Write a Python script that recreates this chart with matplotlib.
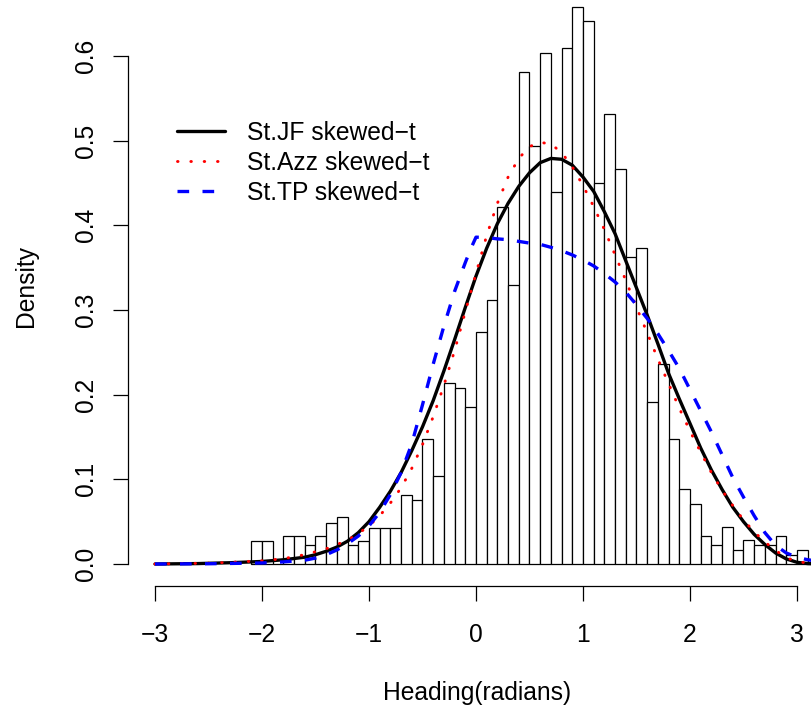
import numpy as np
import matplotlib
matplotlib.use("Agg")
import matplotlib.pyplot as plt

# ---- Data ----
# histogram: left edges of 0.1-wide bins and density heights
bin_left = np.round(np.arange(-2.1, 3.15, 0.1), 1)
bin_density = [0.027, 0.027, 0.0, 0.033, 0.033, 0.022, 0.033, 0.049, 0.055, 0.022,
               0.027, 0.043, 0.043, 0.043, 0.082, 0.076, 0.148, 0.104, 0.214, 0.208,
               0.186, 0.274, 0.312, 0.422, 0.329, 0.581, 0.494, 0.603, 0.439, 0.609,
               0.658, 0.641, 0.450, 0.532, 0.466, 0.362, 0.373, 0.191, 0.236, 0.148,
               0.088, 0.071, 0.033, 0.022, 0.044, 0.017, 0.028, 0.022, 0.022, 0.033,
               0.011, 0.017, 0.0055]

# St.JF skewed-t density curve
jf_x = [-3.0, -2.6, -2.3, -2.0, -1.8, -1.6, -1.5, -1.4, -1.3, -1.2, -1.1, -1.0, -0.9,
        -0.8, -0.7, -0.6, -0.5, -0.4, -0.3, -0.2, -0.1, 0.0, 0.1, 0.2, 0.3, 0.4, 0.5,
        0.6, 0.7, 0.8, 0.9, 1.0, 1.1, 1.2, 1.3, 1.4, 1.5, 1.6, 1.7, 1.8, 1.9, 2.0, 2.1,
        2.2, 2.3, 2.4, 2.5, 2.6, 2.7, 2.8, 2.9, 3.0, 3.1, 3.2]
jf_y = [0.0, 0.0005, 0.0015, 0.003, 0.005, 0.008, 0.011, 0.015, 0.020, 0.027, 0.037,
        0.050, 0.067, 0.086, 0.108, 0.134, 0.162, 0.193, 0.228, 0.265, 0.303, 0.340,
        0.373, 0.402, 0.426, 0.446, 0.462, 0.474, 0.479, 0.478, 0.471, 0.457, 0.440,
        0.416, 0.390, 0.358, 0.326, 0.294, 0.260, 0.225, 0.195, 0.166, 0.137, 0.111,
        0.088, 0.067, 0.050, 0.035, 0.023, 0.013, 0.006, 0.002, 0.0005, 0.0001]

# St.Azz skewed-t density curve
azz_x = [-3.0, -2.5, -2.3, -2.0, -1.8, -1.6, -1.4, -1.2, -1.1, -1.0, -0.9, -0.8, -0.7,
         -0.6, -0.5, -0.4, -0.3, -0.2, -0.1, 0.0, 0.1, 0.2, 0.3, 0.4, 0.5, 0.6, 0.7,
         0.8, 0.9, 1.0, 1.1, 1.2, 1.3, 1.4, 1.5, 1.6, 1.7, 1.8, 1.9, 2.0, 2.1, 2.2, 2.3,
         2.4, 2.5, 2.6, 2.7, 2.8, 2.9, 3.0, 3.1, 3.2]
azz_y = [0.0, 0.001, 0.002, 0.0038, 0.0063, 0.011, 0.018, 0.028, 0.036, 0.045, 0.057,
         0.072, 0.090, 0.113, 0.141, 0.174, 0.211, 0.252, 0.298, 0.343, 0.388, 0.426,
         0.457, 0.479, 0.493, 0.498, 0.496, 0.486, 0.469, 0.447, 0.422, 0.395, 0.365,
         0.335, 0.303, 0.273, 0.242, 0.213, 0.184, 0.157, 0.132, 0.108, 0.087, 0.069,
         0.052, 0.038, 0.026, 0.016, 0.0075, 0.003, 0.001, 0.0003]

# St.TP skewed-t density curve
tp_x = [-3.0, -2.5, -2.0, -1.8, -1.6, -1.5, -1.4, -1.3, -1.2, -1.1, -1.0, -0.9, -0.8,
        -0.7, -0.6, -0.5, -0.4, -0.3, -0.2, -0.1, -0.05, 0.0, 0.1, 0.2, 0.3, 0.4, 0.5,
        0.6, 0.7, 0.8, 0.9, 1.0, 1.1, 1.2, 1.3, 1.4, 1.5, 1.6, 1.7, 1.8, 1.9, 2.0, 2.1,
        2.2, 2.3, 2.4, 2.5, 2.6, 2.7, 2.8, 2.9, 3.0, 3.1, 3.2]
tp_y = [0.0, 0.0003, 0.0012, 0.0025, 0.0045, 0.007, 0.011, 0.0166, 0.024, 0.033, 0.045,
        0.061, 0.082, 0.108, 0.142, 0.188, 0.236, 0.281, 0.322, 0.356, 0.372, 0.386,
        0.3855, 0.384, 0.383, 0.381, 0.379, 0.3775, 0.374, 0.370, 0.365, 0.359, 0.352,
        0.343, 0.333, 0.321, 0.306, 0.290, 0.272, 0.252, 0.231, 0.206, 0.181, 0.156,
        0.129, 0.102, 0.079, 0.057, 0.037, 0.022, 0.013, 0.008, 0.005, 0.003]

legend_labels = ["St.JF skewed\u2212t", "St.Azz skewed\u2212t", "St.TP skewed\u2212t"]
x_ticks = [-3, -2, -1, 0, 1, 2, 3]
x_ticklabels = ["\u22123", "\u22122", "\u22121", "0", "1", "2", "3"]
y_ticks = [0.0, 0.1, 0.2, 0.3, 0.4, 0.5, 0.6]
y_ticklabels = ["0.0", "0.1", "0.2", "0.3", "0.4", "0.5", "0.6"]

# ---- Style ----
plt.rcParams['font.family'] = ['Liberation Sans', 'DejaVu Sans']
plt.rcParams['lines.scale_dashes'] = False
FS = 17.7
W, H = 812, 710

fig = plt.figure(figsize=(W / 100, H / 100), dpi=100)
# axes box: left edge = y axis line, bottom edge = x axis line (R style)
ax = fig.add_axes([128 / W, (H - 586) / H, (W - 128) / W, 586 / H])

ax.bar(bin_left, bin_density, width=0.1, align='edge', facecolor='white',
       edgecolor='black', linewidth=0.9, zorder=1)
ax.plot(jf_x, jf_y, color='black', lw=2.4, solid_capstyle='round',
        label=legend_labels[0], zorder=3)
ax.plot(azz_x, azz_y, color='red', lw=2.1, linestyle=(0, (0.4, 9.2)),
        dash_capstyle='round', label=legend_labels[1], zorder=3)
ax.plot(tp_x, tp_y, color='blue', lw=2.4, linestyle=(0, (8.4, 9.6)),
        dash_capstyle='butt', label=legend_labels[2], zorder=3)

ax.set_xlim(-3.2523, 3.1402)
ax.set_ylim(-0.02598, 0.6661)

for s in ['top', 'right']:
    ax.spines[s].set_visible(False)
ax.spines['left'].set_bounds(0, 0.6)
ax.spines['bottom'].set_bounds(-3, 3)
ax.spines['left'].set_linewidth(0.9)
ax.spines['bottom'].set_linewidth(0.9)

ax.set_xticks(x_ticks)
ax.set_xticklabels(x_ticklabels)
ax.set_yticks(y_ticks)
ax.set_yticklabels(y_ticklabels, rotation=90, va='center')
ax.tick_params(axis='both', direction='out', length=10.8, width=0.9, labelsize=FS)
ax.tick_params(axis='x', pad=15.5)
ax.tick_params(axis='y', pad=11)

fig.text(477 / W, (H - 700) / H, "Heading(radians)", ha='center', va='baseline',
         fontsize=FS)
fig.text(25.5 / W, (H - 286) / H, "Density", ha='center', va='center', rotation=90,
         fontsize=FS)

ax.legend(loc='upper left', bbox_to_anchor=(167 / W, 1 - 111 / H),
          bbox_transform=fig.transFigure, frameon=False, fontsize=FS,
          handlelength=1.96, handletextpad=0.9, labelspacing=0.24,
          borderpad=0.4, borderaxespad=0)

fig.savefig("out.png", dpi=100)
